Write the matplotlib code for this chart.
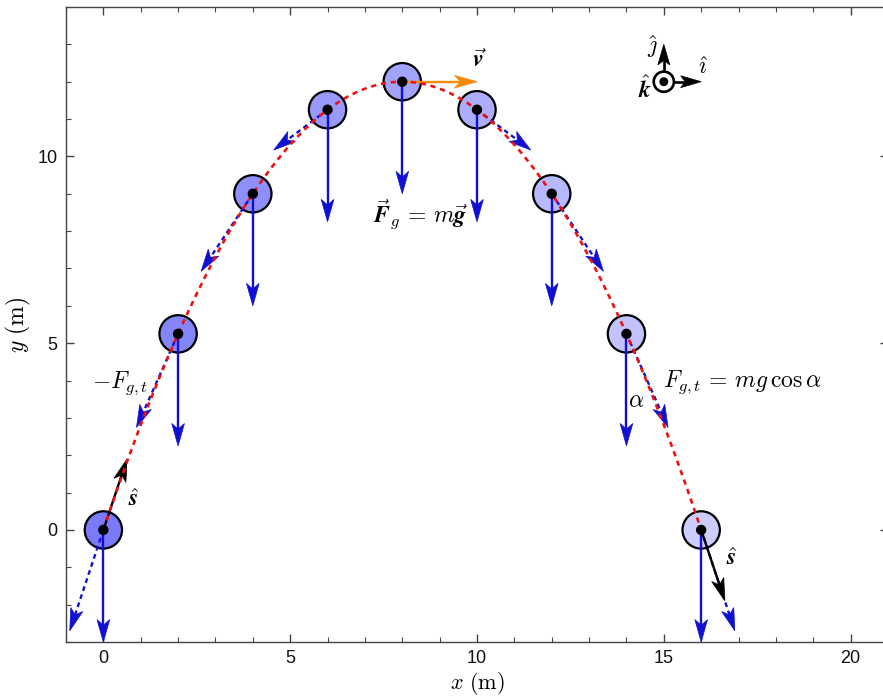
import numpy as np
import matplotlib
matplotlib.use("Agg")
import matplotlib.pyplot as plt
from matplotlib.patches import Circle, Polygon
from matplotlib.ticker import MultipleLocator

plt.rcParams['mathtext.fontset'] = 'cm'
plt.rcParams['font.family'] = ['Liberation Sans', 'DejaVu Sans']

# ---- data ----
ball_x = [0, 2, 4, 6, 8, 10, 12, 14, 16]
ball_y = [0, 5.25, 9, 11.25, 12, 11.25, 9, 5.25, 0]
gravity_len = 3.0       # length of m*g arrows
s_hat_len = 2.0         # length of unit tangent arrows shown
v_len = 2.0             # velocity arrow at apex
x_ticks = [0, 5, 10, 15, 20]
y_ticks = [0, 5, 10]

W, H = 883, 699
fig = plt.figure(figsize=(W / 100, H / 100), dpi=100)
ax_left, ax_right, ax_top, ax_bot = 66, 888, 7, 642
ax = fig.add_axes([ax_left / W, (H - ax_bot) / H, (ax_right - ax_left) / W, (ax_bot - ax_top) / H])
ax.set_xlim(-1, 21)
ax.set_ylim(-3, 14)

BLUE = '#1010d0'
RED = '#ee1111'
ORANGE = '#f58a0a'


def arrow(x0, y0, dx, dy, color, ls='-', lw=1.7, L=0.6, w=0.17, notch=0.15, z=5, dashes=None):
    d = np.array([dx, dy], float)
    n = np.linalg.norm(d)
    if n < 1e-9:
        return
    u = d / n
    p = np.array([-u[1], u[0]])
    tip = np.array([x0, y0]) + d
    base = tip - L * u
    end = tip - (L - notch) * u
    line, = ax.plot([x0, end[0]], [y0, end[1]], color=color, lw=lw, ls=ls, zorder=z,
                    solid_capstyle='butt')
    if dashes is not None:
        line.set_dashes(dashes)
    poly = Polygon([tip, base + w * p, end, base - w * p], closed=True,
                   facecolor=color, edgecolor=color, lw=0.5, zorder=z)
    ax.add_patch(poly)


# trajectory (quadratic through the ball positions)
coef = np.polyfit(ball_x, ball_y, 2)
dcoef = np.polyder(coef)
xs = np.linspace(min(ball_x), max(ball_x), 400)

# balls
alphas = np.linspace(0.52, 0.2, len(ball_x))
for bx, by, a in zip(ball_x, ball_y, alphas):
    face = (1 - a) * np.array([1, 1, 1]) + a * np.array([0.0, 0.0, 0.96])
    ax.add_patch(Circle((bx, by), 0.5, facecolor=face, edgecolor='black', lw=1.6, zorder=2))

# gravity arrows and tangential components
for bx, by in zip(ball_x, ball_y):
    arrow(bx, by, 0, -gravity_len, BLUE, z=4)
    slope = np.polyval(dcoef, bx)
    t = np.array([1.0, slope]) / np.hypot(1.0, slope)
    g = np.array([0.0, -gravity_len])
    comp = np.dot(g, t) * t
    arrow(bx, by, comp[0], comp[1], BLUE, ls='--', z=4, dashes=(2.0, 1.6))

# unit tangent vectors s_hat at the ends
for bx in [ball_x[0], ball_x[-1]]:
    slope = np.polyval(dcoef, bx)
    t = np.array([1.0, slope]) / np.hypot(1.0, slope)
    by = np.polyval(coef, bx)
    arrow(bx, by, s_hat_len * t[0], s_hat_len * t[1], 'black', z=5)

# velocity at apex
arrow(ball_x[4], ball_y[4], v_len, 0, ORANGE, z=5)

# red dashed trajectory on top
traj, = ax.plot(xs, np.polyval(coef, xs), color=RED, lw=1.9, ls='--', zorder=6)
traj.set_dashes((2.0, 1.8))

# center dots
for bx, by in zip(ball_x, ball_y):
    ax.add_patch(Circle((bx, by), 0.12, facecolor='black', edgecolor='black', zorder=7))

# unit vector icon
cx, cy = 15.0, 12.0
ax.add_patch(Circle((cx, cy), 0.27, facecolor='white', edgecolor='black', lw=1.9, zorder=7))
ax.add_patch(Circle((cx, cy), 0.1, facecolor='black', edgecolor='black', zorder=8))
arrow(cx, cy + 0.27, 0, 0.73, 'black', lw=1.9, L=0.55, w=0.16, notch=0.12, z=7)
arrow(cx + 0.27, cy, 0.73, 0, 'black', lw=1.9, L=0.55, w=0.16, notch=0.12, z=7)

fs = 17
ax.text(14.7, 12.95, r'$\hat{\boldsymbol{\jmath}}$', fontsize=fs, ha='center', va='center')
ax.text(16.05, 12.38, r'$\hat{\boldsymbol{\imath}}$', fontsize=fs, ha='center', va='center')
ax.text(14.5, 11.8, r'$\hat{\boldsymbol{k}}$', fontsize=fs, ha='center', va='center')

ax.text(10.05, 12.58, r'$\vec{\boldsymbol{v}}$', fontsize=fs, ha='center', va='center')
ax.text(8.5, 8.45, r'$\vec{\boldsymbol{F}}_g \,=\, m\vec{\boldsymbol{g}}$', fontsize=fs, ha='center', va='center')
ax.text(0.45, 3.92, r'$-F_{g,t}$', fontsize=fs, ha='center', va='center')
ax.text(17.1, 3.95, r'$F_{g,t} \,=\, mg\,\cos\alpha$', fontsize=fs, ha='center', va='center')
ax.text(14.27, 3.45, r'$\alpha$', fontsize=fs, ha='center', va='center')
ax.text(0.8, 0.8, r'$\hat{\boldsymbol{s}}$', fontsize=fs, ha='center', va='center')
ax.text(16.82, -0.78, r'$\hat{\boldsymbol{s}}$', fontsize=fs, ha='center', va='center')

# axes styling
ax.set_xticks(x_ticks)
ax.set_yticks(y_ticks)
ax.xaxis.set_minor_locator(MultipleLocator(1))
ax.yaxis.set_minor_locator(MultipleLocator(1))
ax.tick_params(which='both', direction='in', top=True, right=True, color='#444444',
               labelsize=13, labelcolor='#111111')
ax.tick_params(which='major', length=6, width=1, pad=6)
ax.tick_params(which='minor', length=3.5, width=0.8)
for sp in ax.spines.values():
    sp.set_color('#444444')
    sp.set_linewidth(1.0)
ax.set_xlabel(r'$x\ (\mathrm{m})$', fontsize=16, labelpad=2)
ax.set_ylabel(r'$y\ (\mathrm{m})$', fontsize=17, labelpad=3)

fig.savefig('out.png', dpi=100)
